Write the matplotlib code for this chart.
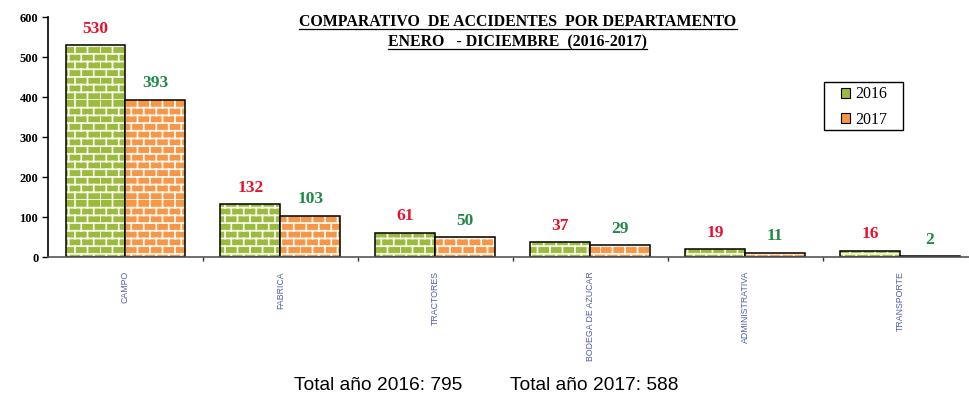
import warnings

import matplotlib

matplotlib.use("Agg")
import matplotlib.pyplot as plt
import numpy as np
from matplotlib import hatch as mhatch
from matplotlib.lines import Line2D
from matplotlib.patches import Rectangle
from matplotlib.path import Path

departamentos = ["CAMPO", "FABRICA", "TRACTORES", "BODEGA DE AZUCAR",
                 "ADMINISTRATIVA", "TRANSPORTE"]
anios = ["2016", "2017"]
acc_2016 = [530, 132, 61, 37, 19, 16]
acc_2017 = [393, 103, 50, 29, 11, 2]
yticks = [0, 100, 200, 300, 400, 500, 600]

titulo = ["COMPARATIVO  DE ACCIDENTES  POR DEPARTAMENTO",
          "ENERO   - DICIEMBRE  (2016-2017)"]
pie = ["Total año 2016: 795", "Total año 2017: 588"]

VERDE = "#9bbb3c"
NARANJA = "#f79646"
ROJO = "#e8112d"
VERDE_TXT = "#1f8a46"
AZUL = "#5060a8"


class BrickHatch(mhatch.HatchPatternBase):
    """Brick wall pattern, selected with the 'B' hatch character."""

    rows = 13
    cols = 8

    def __init__(self, hatch, density):
        self.on = "B" in hatch
        self.num_vertices = (self.rows + self.rows * self.cols) * 2 if self.on else 0

    def set_vertices_and_codes(self, vertices, codes):
        segs = []
        for i in range(self.rows):
            y0 = i / self.rows
            y1 = (i + 1) / self.rows
            segs.append(((0.0, y0), (1.0, y0)))
            shift = 0.5 * (i % 2)
            for j in range(self.cols):
                x = (j + shift) / self.cols
                segs.append(((x, y0), (x, y1)))
        pts = np.array(segs).reshape(-1, 2)
        vertices[:] = pts
        codes[0::2] = Path.MOVETO
        codes[1::2] = Path.LINETO


mhatch._hatch_types.append(BrickHatch)
warnings.filterwarnings("ignore")

plt.rcParams["hatch.linewidth"] = 1.3

fig = plt.figure(figsize=(9.70, 3.98), dpi=100)
ax = fig.add_axes([48 / 970, 1 - 257 / 398, 929.5 / 970, 240 / 398])

x = np.arange(len(departamentos))
w = 0.387
for vals, off, col in [(acc_2016, -w / 2, VERDE), (acc_2017, w / 2, NARANJA)]:
    ax.bar(x + off, vals, w, color=col, edgecolor="#f6f6ec", linewidth=0, hatch="B")
    ax.bar(x + off, vals, w, fill=False, edgecolor="black", linewidth=1.1)

for xi, v in zip(x, acc_2016):
    ax.annotate(str(v), (xi - w / 2, v), xytext=(0, 6), textcoords="offset points",
                ha="center", va="bottom", color=ROJO, fontsize=12.5,
                fontweight="bold", family="Liberation Serif")
for xi, v in zip(x, acc_2017):
    ax.annotate(str(v), (xi + w / 2, v), xytext=(0, 6), textcoords="offset points",
                ha="center", va="bottom", color=VERDE_TXT, fontsize=12.5,
                fontweight="bold", family="Liberation Serif")

ax.set_xlim(-0.5, len(departamentos) - 0.5)
ax.set_ylim(0, 600)
ax.set_yticks(yticks)
ax.set_yticklabels([str(t) for t in yticks], fontsize=9, fontweight="bold",
                   family="Liberation Serif")
ax.tick_params(axis="y", length=4, width=1, pad=3)

ax.set_xticks(x)
ax.set_xticklabels(departamentos, rotation=90, fontsize=6.3, color=AZUL,
                   family="Liberation Sans", va="top")
ax.tick_params(axis="x", which="major", length=0, pad=10)
ax.set_xticks(x[:-1] + 0.5, minor=True)
ax.tick_params(axis="x", which="minor", length=3, width=1, color="#333333")

for s in ["top", "right"]:
    ax.spines[s].set_visible(False)
ax.spines["left"].set_linewidth(1.2)
ax.spines["bottom"].set_linewidth(1.2)
ax.spines["bottom"].set_color("#555555")

# legend: swatches and labels, box drawn separately
handles = [Rectangle((0, 0), 1, 1, facecolor=VERDE, edgecolor="black", lw=0.8),
           Rectangle((0, 0), 1, 1, facecolor=NARANJA, edgecolor="black", lw=0.8)]
fig.legend(handles, anios, loc="center", bbox_to_anchor=(864 / 970, 1 - 107 / 398),
           frameon=False, handlelength=0.6, handleheight=0.6, handletextpad=0.3,
           borderpad=0, borderaxespad=0, labelspacing=0.6,
           prop={"family": "Liberation Serif", "size": 11.5})
fig.add_artist(Rectangle((824 / 970, 1 - 130 / 398), 79 / 970, 48 / 398,
                         transform=fig.transFigure, fill=False, edgecolor="black", lw=1.0))

# underlined title
tit = []
for k, line in enumerate(titulo):
    t = fig.text(518 / 970, 1 - (22 + 20 * k) / 398, line, ha="center", va="center",
                 fontsize=11.4, fontweight="bold", family="Liberation Serif")
    tit.append(t)
fig.canvas.draw()
r = fig.canvas.get_renderer()
for t in tit:
    bb = t.get_window_extent(r).transformed(fig.transFigure.inverted())
    fig.add_artist(Line2D([bb.x0, bb.x1], [bb.y0 + 0.003, bb.y0 + 0.003],
                          transform=fig.transFigure, color="black", lw=0.9))

fig.text(378 / 970, 1 - 385 / 398, pie[0], ha="center", va="center", fontsize=13.8,
         family="Liberation Sans")
fig.text(594 / 970, 1 - 385 / 398, pie[1], ha="center", va="center", fontsize=13.8,
         family="Liberation Sans")

fig.savefig("out.png", dpi=100)
